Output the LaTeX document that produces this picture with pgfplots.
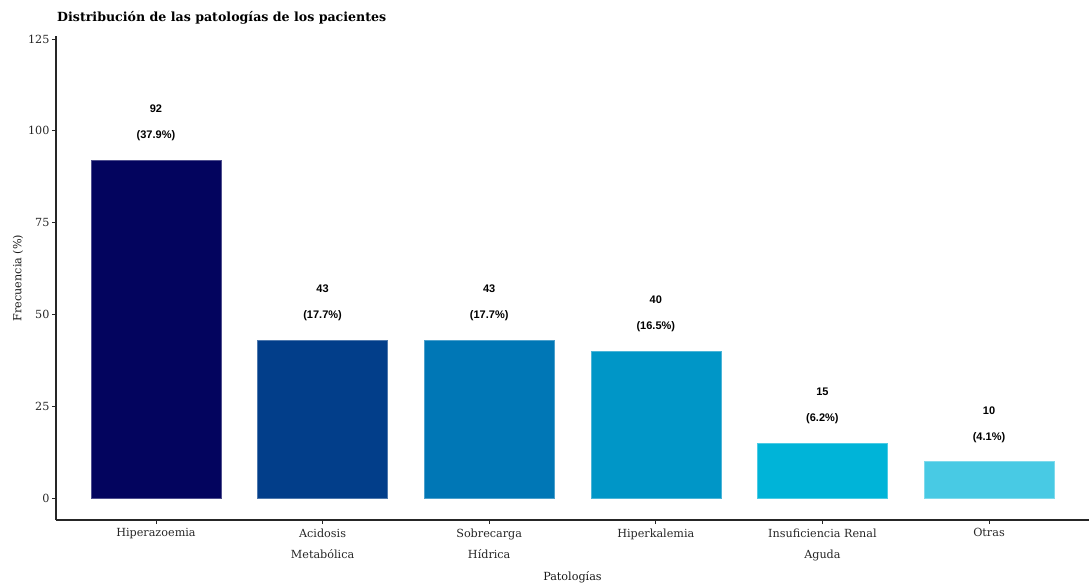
\documentclass[border=0pt]{standalone}
\usepackage{pgfplots}
\pgfplotsset{compat=1.18}
\usepackage{fontspec}
\setmainfont{DejaVu Serif}
\newfontfamily\valfont{Liberation Sans}
\definecolor{c1}{HTML}{03045E}
\definecolor{c2}{HTML}{023E8A}
\definecolor{c3}{HTML}{0077B6}
\definecolor{c4}{HTML}{0096C7}
\definecolor{c5}{HTML}{00B4D8}
\definecolor{c6}{HTML}{48CAE4}
\begin{document}
\begin{tikzpicture}
\path[use as bounding box] (-56pt,-64pt) rectangle (1033pt,520pt);
\begin{axis}[
  at={(0pt,0pt)}, anchor=south west,
  scale only axis, width=1033pt, height=484pt,
  xmin=-0.6, xmax=5.6, ymin=-6, ymax=125.8,
  axis x line*=bottom, axis y line*=left,
  axis line style={line width=1.2pt, black!85},
  ybar, bar shift=0pt, bar width=0.78,
  xtick={0,1,2,3,4,5},
  xticklabels={Hiperazoemia, {Acidosis\\Metabólica}, {Sobrecarga\\Hídrica}, Hiperkalemia, {Insuficiencia Renal\\Aguda}, Otras},
  ytick={0,25,50,75,100,125},
  tick align=outside, major tick length=4pt,
  tick style={line width=0.8pt, black!85},
  /pgf/number format/assume math mode=true,
  ticklabel style={font=\fontsize{11.2}{21}\selectfont, text=black!85},
  xticklabel style={align=center, yshift=-1pt},
  yticklabel style={xshift=1pt},
  xlabel={Patologías}, ylabel={Frecuencia (\%)},
  label style={font=\fontsize{11.2}{13}\selectfont, text=black!90},
  xlabel style={at={(axis description cs:0.5,-0.118)}, anchor=center},
  ylabel style={at={(axis description cs:-0.0368,0.5)}, anchor=center, rotate=0},
  clip=false,
]
\addplot[fill=c1, draw=c1!70!white] coordinates {(0,92)};
\addplot[fill=c2, draw=c2!70!white] coordinates {(1,43)};
\addplot[fill=c3, draw=c3!70!white] coordinates {(2,43)};
\addplot[fill=c4, draw=c4!70!white] coordinates {(3,40)};
\addplot[fill=c5, draw=c5!70!white] coordinates {(4,15)};
\addplot[fill=c6, draw=c6!70!white] coordinates {(5,10)};
\foreach \x/\v/\p in {0/92/37.9, 1/43/17.7, 2/43/17.7, 3/40/16.5, 4/15/6.2, 5/10/4.1}{
  \edef\tmp{\noexpand\node[font=\noexpand\valfont\noexpand\bfseries\noexpand\fontsize{11}{13}\noexpand\selectfont, yshift=51pt] at (axis cs:\x,\v) {\v};
  \noexpand\node[font=\noexpand\valfont\noexpand\bfseries\noexpand\fontsize{11}{13}\noexpand\selectfont, yshift=24pt] at (axis cs:\x,\v) {(\p\noexpand\%)};}
  \tmp
}
\end{axis}
\node[anchor=west, inner sep=0pt, font=\bfseries\fontsize{12.6}{15}\selectfont] at (1pt,502pt) {Distribución de las patologías de los pacientes};
\end{tikzpicture}
\end{document}
